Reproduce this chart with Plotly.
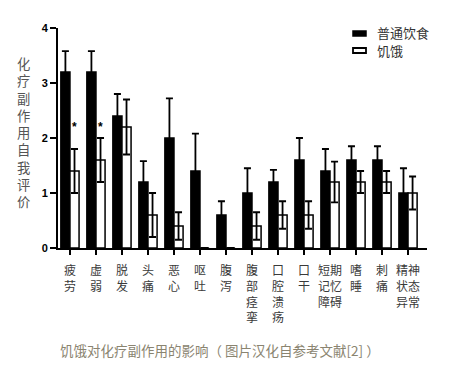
import plotly.graph_objects as go

categories = ["疲劳", "虚弱", "脱发", "头痛", "恶心", "呕吐", "腹泻",
              "腹部痉挛", "口腔溃疡", "口干", "短期记忆障碍", "嗜睡", "刺痛", "精神状态异常"]
tick_labels = ["疲<br>劳", "虚<br>弱", "脱<br>发", "头<br>痛", "恶<br>心", "呕<br>吐", "腹<br>泻",
               "腹<br>部<br>痉<br>挛", "口<br>腔<br>溃<br>疡", "口<br>干", "短期<br>记忆<br>障碍",
               "嗜<br>睡", "刺<br>痛", "精神<br>状态<br>异常"]
normal_vals = [3.2, 3.2, 2.4, 1.2, 2.0, 1.4, 0.6, 1.0, 1.2, 1.6, 1.4, 1.6, 1.6, 1.0]
normal_err = [0.38, 0.38, 0.4, 0.38, 0.72, 0.68, 0.25, 0.45, 0.22, 0.4, 0.4, 0.25, 0.25, 0.45]
fast_vals = [1.4, 1.6, 2.2, 0.6, 0.4, 0.0, 0.0, 0.4, 0.6, 0.6, 1.2, 1.2, 1.2, 1.0]
fast_err = [0.4, 0.4, 0.5, 0.4, 0.25, 0.0, 0.0, 0.25, 0.25, 0.25, 0.37, 0.2, 0.2, 0.3]
star_cats = ["疲劳", "虚弱"]
star_y = 2.2
series_names = ["普通饮食", "饥饿"]
y_title = "化疗副作用自我评价"
caption = "饥饿对化疗副作用的影响（ 图片汉化自参考文献[2] ）"

# plot area on screen (px): x 58..427, y 28..248
PX0, PX1, PY0, PY1 = 58, 427, 28, 248


def px_x(x):
    return (x - PX0) / (PX1 - PX0)


def px_y(y):
    return (PY1 - y) / (PY1 - PY0)


fig = go.Figure()
fig.add_trace(go.Bar(
    x=categories, y=normal_vals, name=series_names[0],
    marker=dict(color="black", line=dict(color="black", width=1.5)),
    error_y=dict(type="data", array=normal_err, color="black", thickness=1.8, width=3.5),
    showlegend=False,
))
fig.add_trace(go.Bar(
    x=categories, y=fast_vals, name=series_names[1],
    marker=dict(color="white", line=dict(color="black", width=1.5)),
    error_y=dict(type="data", array=fast_err, color="black", thickness=1.8, width=3.5),
    showlegend=False,
))

for c in star_cats:
    fig.add_annotation(x=c, y=star_y, text="*", showarrow=False, xshift=5,
                       font=dict(size=12, color="black", family="Arial", weight="bold"))

# Y title, stacked characters in one text
fig.add_annotation(xref="paper", yref="paper", x=px_x(23), y=px_y(132.5),
                   text="<br>".join(list(y_title)), showarrow=False,
                   xanchor="center", yanchor="middle", borderpad=0,
                   font=dict(size=13.3, color="#555", family="Noto Sans CJK SC"))

# manual legend
fig.add_shape(type="rect", xref="paper", yref="paper",
              x0=px_x(353), x1=px_x(366), y0=px_y(31), y1=px_y(36),
              fillcolor="black", line=dict(color="black", width=1.5))
fig.add_shape(type="rect", xref="paper", yref="paper",
              x0=px_x(353), x1=px_x(366), y0=px_y(48), y1=px_y(53),
              fillcolor="white", line=dict(color="black", width=1.8))
fig.add_annotation(xref="paper", yref="paper", x=px_x(375), y=px_y(33), text=series_names[0],
                   showarrow=False, xanchor="left", yanchor="middle",
                   font=dict(size=13, color="#333", family="Noto Sans CJK SC"))
fig.add_annotation(xref="paper", yref="paper", x=px_x(375), y=px_y(51), text=series_names[1],
                   showarrow=False, xanchor="left", yanchor="middle",
                   font=dict(size=13, color="#333", family="Noto Sans CJK SC"))

# caption
fig.add_annotation(xref="paper", yref="paper", x=px_x(58), y=px_y(350),
                   text=caption, showarrow=False, xanchor="left", yanchor="middle",
                   font=dict(size=13.5, color="#8a8470", family="Noto Sans CJK SC"))

# page body has an 8px default margin: figure is 8px smaller, left/top margins reduced by 8
fig.update_layout(
    width=448, height=362,
    margin=dict(l=PX0 - 8, r=456 - PX1, t=PY0 - 8, b=370 - PY1),
    paper_bgcolor="white", plot_bgcolor="white",
    barmode="group", bargap=0.3, bargroupgap=0,
    font=dict(family="Noto Sans CJK SC", color="#333"),
    xaxis=dict(
        tickmode="array", tickvals=categories, ticktext=tick_labels,
        range=[-0.46, 13.73],
        showline=True, linecolor="black", linewidth=2,
        ticks="outside", ticklen=5, tickwidth=1.5, tickcolor="black",
        ticklabelstandoff=6,
        tickfont=dict(size=12, color="#3a3a3a", family="Noto Sans CJK SC"),
        showgrid=False, zeroline=False, fixedrange=True,
    ),
    yaxis=dict(
        range=[0, 4], tickvals=[0, 1, 2, 3, 4],
        showline=True, linecolor="black", linewidth=2,
        ticks="outside", ticklen=6, tickwidth=1.5, tickcolor="black",
        tickfont=dict(size=11, color="black", family="Liberation Sans", weight="bold"),
        showgrid=False, zeroline=False, fixedrange=True,
    ),
)

fig.write_html("out.html")
